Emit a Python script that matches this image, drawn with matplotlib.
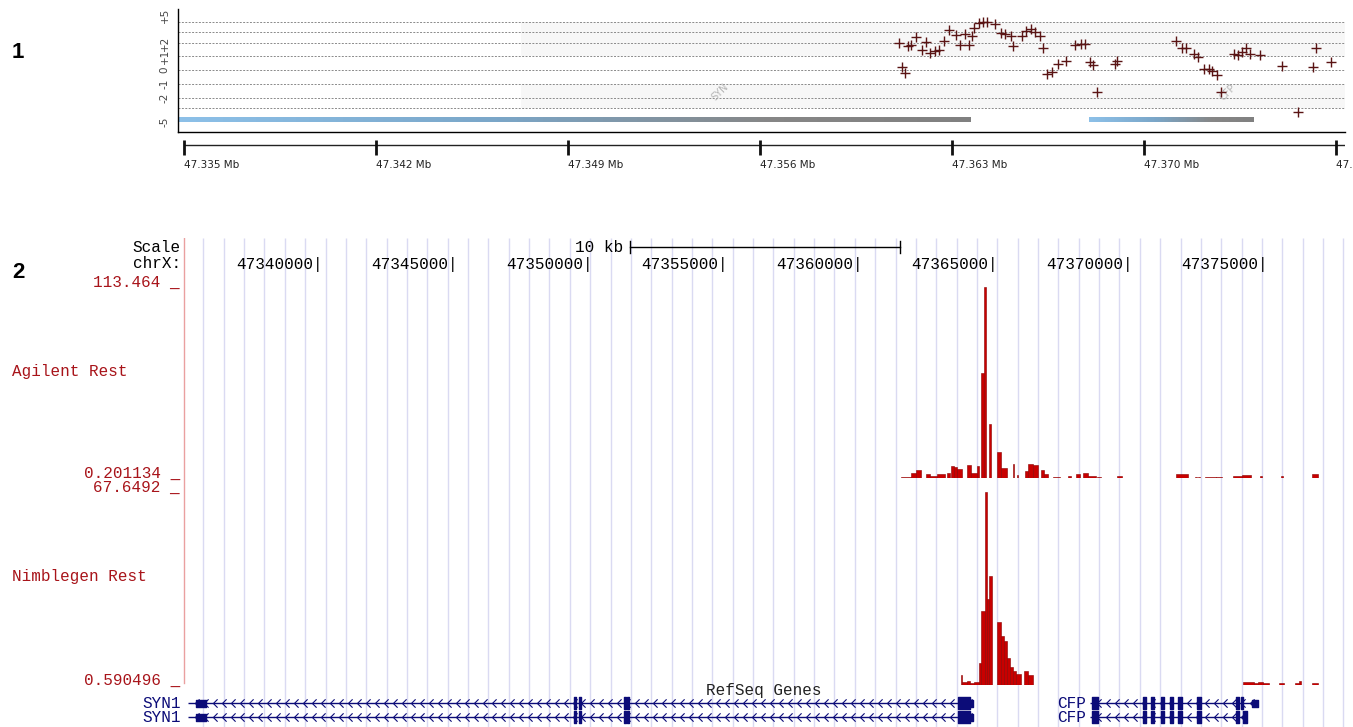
import numpy as np
import matplotlib.pyplot as plt
import matplotlib.transforms as mtransforms
from matplotlib.path import Path
from matplotlib.colors import LinearSegmentedColormap

W, H = 1353, 727

# ---------------- panel 1 data (log ratio probes) ----------------
probe_mb = [47.36107, 47.36117, 47.36129, 47.36141, 47.36150, 47.36168, 47.36190,
            47.36205, 47.36219, 47.36239, 47.36251, 47.36270, 47.36288, 47.36313,
            47.36331, 47.36349, 47.36361, 47.36374, 47.36382, 47.36398, 47.36414,
            47.36429, 47.36456, 47.36478, 47.36492, 47.36515, 47.36524, 47.36557,
            47.36570, 47.36588, 47.36602, 47.36622, 47.36633, 47.36647, 47.36664,
            47.36686, 47.36714, 47.36747, 47.36769, 47.36786, 47.36802, 47.36814,
            47.36830, 47.36894, 47.36900, 47.37116, 47.37138, 47.37153, 47.37182,
            47.37197, 47.37218, 47.37236, 47.37248, 47.37265, 47.37280, 47.37328,
            47.37344, 47.37359, 47.37371, 47.37387, 47.37422, 47.37503, 47.37561,
            47.37616, 47.37628, 47.37683]
probe_ratio = [2.02, 0.21, -0.21, 1.75, 1.88, 2.51, 1.50, 2.08, 1.24, 1.39, 1.45,
               2.20, 3.19, 2.72, 1.83, 2.81, 1.83, 2.63, 3.36, 3.93, 4.04, 4.04,
               3.80, 2.87, 2.81, 2.65, 1.75, 2.63, 3.09, 3.26, 3.03, 2.63, 1.65,
               -0.26, -0.14, 0.46, 0.65, 1.81, 1.91, 1.91, 0.58, 0.34, -1.58, 0.41,
               0.65, 2.20, 1.58, 1.58, 1.14, 0.94, 0.09, 0.09, -0.07, -0.39, -1.58,
               1.18, 1.11, 1.32, 1.58, 1.14, 1.06, 0.26, -3.61, 0.21, 1.58, 0.58]
ratio_ticks = [5, 2, 1, 0, -1, -2, -5]
ratio_tick_labels = ["+5", "+2", "+1", "0", "-1", "-2", "-5"]
ratio_lines = [4, 3, 2, 1, 0, -1, -2, -3]
# piecewise display scale of the ratio axis
scale_vals = [-7, -6, -5, -3, -2, -1, 0, 1, 2, 3, 4, 5, 6]
scale_pos = [-68, -60, -52, -38, -28, -14, 0, 14, 27, 38, 48, 55, 62]
p1_gene_names = ["SYN", "CFP"]
p1_gene_start = [47.33470, 47.36799]
p1_gene_end = [47.36369, 47.37401]
p1_gene_label_mb = [47.35454, 47.37306]
ruler_ticks = [47.335, 47.342, 47.349, 47.356, 47.363, 47.370, 47.377]

# ---------------- panel 2 data (UCSC browser) ----------------
view_start, view_end = 47334889, 47377926
chrom_ticks = [47340000, 47345000, 47350000, 47355000, 47360000, 47365000, 47370000, 47375000]
scale_bar_start, scale_bar_len = 47351444, 10000

agilent_range = (0.201134, 113.464)
agilent_start = [47361480, 47361850, 47362040, 47362410, 47362560, 47362820, 47363190,
                 47363330, 47363440, 47363560, 47363930, 47364070, 47364300, 47364440,
                 47364560, 47364740, 47365040, 47365190, 47365630, 47365780, 47366070,
                 47366190, 47366370, 47366670, 47366780, 47367110, 47367670, 47367960,
                 47368220, 47368410, 47368740, 47369480, 47371670, 47372370, 47372480,
                 47372740, 47373150, 47373780, 47374110, 47374780, 47375560, 47376700]
agilent_end = [47361850, 47362040, 47362220, 47362560, 47362820, 47363110, 47363300,
               47363440, 47363560, 47363740, 47364070, 47364300, 47364370, 47364560,
               47364630, 47364820, 47365190, 47365410, 47365670, 47365820, 47366190,
               47366370, 47366560, 47366780, 47366930, 47367370, 47367780, 47368110,
               47368410, 47368700, 47368890, 47369670, 47372110, 47372440, 47372560,
               47373150, 47373370, 47374110, 47374440, 47374850, 47375630, 47376930]
agilent_val = [1.0, 3.0, 4.8, 2.8, 1.6, 2.4, 3.0, 7.5, 6.8, 5.8, 8.0, 3.0, 7.5, 62.7,
               113.4, 32.4, 15.5, 6.0, 8.4, 2.0, 4.4, 8.5, 8.0, 5.0, 2.4, 1.0, 1.6, 2.4,
               3.0, 1.4, 0.6, 1.4, 2.6, 1.0, 1.0, 1.0, 0.8, 1.6, 2.0, 1.2, 1.2, 2.4]

nimble_range = (0.590496, 67.6492)
nimble_start = [47363690, 47363740, 47363930, 47364040, 47364190, 47364370, 47364440,
                47364590, 47364670, 47364740, 47365040, 47365190, 47365300, 47365410,
                47365520, 47365630, 47365740, 47366040, 47366190, 47374150, 47374560,
                47374690, 47374890, 47375480, 47376060, 47376240, 47376690]
nimble_end = [47363740, 47363930, 47364040, 47364190, 47364370, 47364440, 47364590,
              47364670, 47364740, 47364850, 47365190, 47365300, 47365410, 47365520,
              47365630, 47365740, 47365930, 47366190, 47366370, 47374560, 47374690,
              47374890, 47375100, 47375670, 47376240, 47376310, 47376930]
nimble_val = [3.9, 1.8, 2.0, 1.4, 1.8, 8.2, 26.4, 67.6, 30.5, 38.3, 22.6, 17.6, 15.8,
              9.9, 7.0, 5.3, 4.3, 5.5, 4.1, 1.8, 1.3, 1.6, 1.2, 1.3, 1.3, 2.0, 1.3]

# RefSeq genes: (name, row, tx start, tx end, thick exons, thin exons)
syn1_thick = [(47349370, 47349440), (47349560, 47349630), (47351220, 47351300),
              (47351350, 47351410), (47363590, 47364040)]
syn1_thin = [(47335370, 47335740), (47364040, 47364150)]
cfp_thick = [(47368560, 47368780), (47370440, 47370560), (47370740, 47370850),
             (47371110, 47371220), (47371440, 47371560), (47371740, 47371890),
             (47372440, 47372590), (47373890, 47374000)]
genes = [
    ("SYN1", 0, 47335070, 47364150, syn1_thick, syn1_thin),
    ("SYN1", 1, 47335070, 47364150, syn1_thick, syn1_thin),
    ("CFP", 0, 47368480, 47374700, cfp_thick + [(47374070, 47374150)], [(47374480, 47374700)]),
    ("CFP", 1, 47368480, 47374300, cfp_thick + [(47374150, 47374300)], []),
]


def box(x0, y0, x1, y1):
    # pixel box (origin top-left) -> figure rect
    return [x0 / W, 1 - y1 / H, (x1 - x0) / W, (y1 - y0) / H]


mono = "Liberation Mono"
fs = 11.5
red_txt = "#a8141a"
bar_red = "#c80000"
navy = "#0c0c78"

fig = plt.figure(figsize=(W / 100, H / 100), dpi=100)
fig.text(18 / W, 1 - 52 / H, "1", fontsize=16, fontweight="bold", ha="center", va="center",
         family="Liberation Sans")
fig.text(18 / W, 1 - 273 / H, "2", fontsize=16, fontweight="bold", ha="center", va="center",
         family="Liberation Sans")

# ---------------- panel 1 ----------------
ax1 = fig.add_axes(box(178, 9, 1345, 132))
fwd = lambda v: np.interp(v, scale_vals, scale_pos)
inv = lambda p: np.interp(p, scale_pos, scale_vals)
ax1.set_yscale("function", functions=(fwd, inv))
ax1.set_xlim(47.33478, 47.37733)
ax1.set_ylim(-6.25, 5.86)

ax1.fill_between([47.34730, 47.37733], 1, 4, color="#f0f0f0", alpha=0.5, lw=0, zorder=0)
ax1.fill_between([47.34730, 47.37733], -3, -1, color="#f0f0f0", alpha=0.5, lw=0, zorder=0)
for v in ratio_lines:
    ax1.axhline(v, color="#8a8a8a", lw=0.7, ls=(0, (2, 1.5)), zorder=1)

cmap = LinearSegmentedColormap.from_list(
    "bar", [(0, "#8cc0e8"), (0.4, "#7aa6c8"), (0.75, "#868686"), (1, "#808080")])
for s, e in zip(p1_gene_start, p1_gene_end):
    xs = np.linspace(s, e, 120)
    ax1.pcolormesh(xs, [-5.0, -4.3], np.linspace(0, 1, 119).reshape(1, -1),
                   cmap=cmap, shading="flat", zorder=2)
for name, xm in zip(p1_gene_names, p1_gene_label_mb):
    ax1.text(xm, -1.57, name, rotation=45, fontsize=7, color="#b4b4b4",
             ha="center", va="center", zorder=2)

ax1.plot(probe_mb, probe_ratio, ls="none", marker="+", ms=7, mew=1.0,
         color="#5a1414", zorder=3)

ax1.set_yticks(ratio_ticks)
ax1.set_yticklabels(ratio_tick_labels, rotation=90, va="center", fontsize=7.5, color="#444444")
ax1.yaxis.set_minor_locator(plt.NullLocator())
ax1.tick_params(axis="y", length=0, pad=6)
ax1.set_xticks([])
for sp in ["top", "right"]:
    ax1.spines[sp].set_visible(False)
ax1.spines["left"].set_linewidth(1.0)
ax1.spines["bottom"].set_linewidth(1.0)

# ruler below panel 1
axr = fig.add_axes(box(178, 138, 1345, 172))
axr.set_xlim(ax1.get_xlim())
axr.set_ylim(34, 0)
axr.axis("off")
axr.hlines(7, ruler_ticks[0], 47.37733, color="#222222", lw=1)
axr.vlines(ruler_ticks, 2, 17, color="#111111", lw=2)
for t in ruler_ticks:
    axr.text(t, 27, f"{t:.3f} Mb", fontsize=7.5, color="#222222", ha="left", va="center",
             clip_on=False)

# ---------------- panel 2 ----------------
bg = fig.add_axes(box(183, 238, 1345, 727))
bg.set_xlim(view_start, view_end)
bg.set_ylim(0, 1)
bg.axis("off")
grid_step = 754
bg.vlines(np.arange(view_start + grid_step, view_end, grid_step), 0, 1, color="#dadaf2", lw=1)
bg.axvline(view_start + 30, ymin=(727 - 683) / (727 - 238), ymax=1, color="#eaa0a0", lw=1)

hdr = mtransforms.blended_transform_factory(bg.transData, fig.transFigure)
for t in chrom_ticks:
    bg.text(t + 60, 1 - 264 / H, f"{t}|", transform=hdr, ha="right", va="center",
            family=mono, fontsize=fs, color="black")
bg.plot([scale_bar_start, scale_bar_start + scale_bar_len], [1 - 247 / H] * 2,
        transform=hdr, color="black", lw=1)
for xb in [scale_bar_start, scale_bar_start + scale_bar_len]:
    bg.plot([xb, xb], [1 - 241 / H, 1 - 253 / H], transform=hdr, color="black", lw=1)
bg.text(scale_bar_start - 250, 1 - 247 / H, "10 kb", transform=hdr, ha="right", va="center",
        family=mono, fontsize=fs)
fig.text(181 / W, 1 - 248 / H, "Scale", ha="right", va="center", family=mono, fontsize=fs)
fig.text(181 / W, 1 - 264 / H, "chrX:", ha="right", va="center", family=mono, fontsize=fs)


def wig_track(y0, y1, starts, ends, vals, yr, label):
    ax = fig.add_axes(box(183, y0, 1345, y1))
    ax.patch.set_alpha(0)
    ax.set_xlim(view_start, view_end)
    ax.set_ylim(*yr)
    ax.axis("off")
    st = np.array(starts)
    ax.bar(st, vals, width=np.array(ends) - st, align="edge", bottom=0,
           color=bar_red, edgecolor="#8a0000", lw=0.4)
    tr = ax.get_yaxis_transform()
    for v in yr:
        ax.text(-0.0025, v, f"{v:g} _", transform=tr, ha="right", va="baseline",
                family=mono, fontsize=fs, color=red_txt, clip_on=False)
    ax.text(-0.147, 0.56, label, transform=ax.transAxes, ha="left", va="center",
            family=mono, fontsize=fs, color=red_txt)
    return ax


wig_track(287, 478, agilent_start, agilent_end, agilent_val, agilent_range, "Agilent Rest")
wig_track(492, 685, nimble_start, nimble_end, nimble_val, nimble_range, "Nimblegen Rest")

# RefSeq genes track
axg = fig.add_axes(box(183, 690, 1345, 727))
axg.patch.set_alpha(0)
axg.set_xlim(view_start, view_end)
axg.set_ylim(1.71, -0.93)
axg.axis("off")
axg.text(0.5, 1.0, "RefSeq Genes", transform=axg.transAxes, ha="center",
         va="center", family=mono, fontsize=fs, color="#222222")
chev = Path([(0.5, 1.0), (-0.5, 0.0), (0.5, -1.0)], [Path.MOVETO, Path.LINETO, Path.LINETO])
chev_step = 333
for name, row, gs, ge, thick, thin in genes:
    axg.hlines(row, gs, ge, color=navy, lw=1, zorder=2)
    cx = np.arange(gs + chev_step, ge - 100, chev_step)
    axg.plot(cx, [row] * len(cx), ls="none", marker=chev, ms=6, mfc="none", mec=navy,
             mew=0.8, zorder=2)
    axg.broken_barh([(s, e - s) for s, e in thick], (row - 0.43, 0.86), color=navy, zorder=3)
    if thin:
        axg.broken_barh([(s, e - s) for s, e in thin], (row - 0.25, 0.5), color=navy, zorder=3)
    if name == "SYN1":
        axg.text(-0.002, row, name, transform=axg.get_yaxis_transform(), ha="right",
                 va="center", family=mono, fontsize=fs, color=navy, clip_on=False)
    else:
        axg.text(gs - 150, row, name, ha="right", va="center", family=mono,
                 fontsize=fs, color=navy)

fig.savefig("out.png", dpi=100)
